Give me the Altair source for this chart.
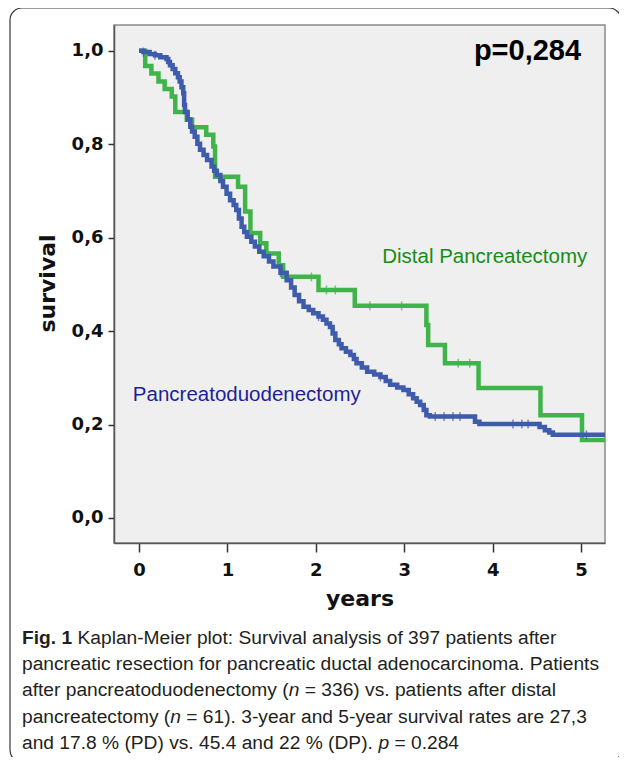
import altair as alt
import pandas as pd

# ---- data ----
dp_time = [0.0, 0.07, 0.14, 0.22, 0.29, 0.37, 0.41, 0.54, 0.60, 0.76, 0.84, 0.86,
           1.12, 1.20, 1.26, 1.37, 1.44, 1.58, 1.63, 2.03, 2.44, 3.25, 3.27, 3.46,
           3.84, 4.54, 5.01, 5.27]
dp_surv = [1.0, 0.967, 0.951, 0.934, 0.918, 0.902, 0.869, 0.852, 0.836, 0.820, 0.795, 0.730,
           0.709, 0.656, 0.610, 0.588, 0.566, 0.541, 0.516, 0.488, 0.454, 0.413, 0.370, 0.331,
           0.278, 0.220, 0.167, 0.167]

pd_time = [0.00, 0.05, 0.12, 0.18, 0.24, 0.31, 0.33, 0.35, 0.38, 0.41, 0.44, 0.46, 0.48,
           0.50, 0.51, 0.52, 0.55, 0.58, 0.60, 0.63, 0.66, 0.69, 0.73, 0.77, 0.82, 0.85,
           0.88, 0.92, 0.95, 0.99, 1.03, 1.07, 1.10, 1.13, 1.16, 1.19, 1.22, 1.27, 1.31,
           1.36, 1.41, 1.47, 1.52, 1.60, 1.67, 1.72, 1.76, 1.81, 1.86, 1.92, 1.97, 2.03,
           2.08, 2.12, 2.16, 2.19, 2.22, 2.26, 2.29, 2.34, 2.39, 2.43, 2.46, 2.52, 2.58,
           2.66, 2.73, 2.79, 2.84, 2.92, 2.99, 3.05, 3.10, 3.14, 3.18, 3.22, 3.25, 3.29,
           3.80, 3.85, 4.53, 4.59, 4.64, 4.68, 5.27]
pd_surv = [1.000, 0.997, 0.993, 0.990, 0.986, 0.982, 0.976, 0.969, 0.961, 0.952, 0.943, 0.934, 0.922,
           0.909, 0.884, 0.869, 0.853, 0.837, 0.827, 0.816, 0.801, 0.788, 0.777, 0.766, 0.752, 0.743,
           0.734, 0.721, 0.709, 0.694, 0.680, 0.670, 0.659, 0.641, 0.623, 0.612, 0.602, 0.591, 0.581,
           0.570, 0.560, 0.549, 0.538, 0.525, 0.509, 0.493, 0.477, 0.464, 0.452, 0.445, 0.438, 0.431,
           0.424, 0.416, 0.409, 0.395, 0.381, 0.372, 0.363, 0.356, 0.349, 0.340, 0.331, 0.322, 0.313,
           0.307, 0.302, 0.293, 0.285, 0.279, 0.274, 0.265, 0.256, 0.249, 0.242, 0.231, 0.220, 0.217,
           0.206, 0.201, 0.195, 0.188, 0.183, 0.178, 0.178]

dp_cens_time = [1.95, 2.12, 2.22, 2.61, 2.97, 3.61, 3.74]
dp_cens_surv = [0.516, 0.488, 0.488, 0.454, 0.454, 0.331, 0.331]
pd_cens_time = [0.05, 0.18, 1.60, 2.03, 2.73, 3.35, 3.45, 3.55, 3.63, 4.23, 4.33, 4.40, 5.06]
pd_cens_surv = [0.997, 0.990, 0.525, 0.431, 0.302, 0.217, 0.217, 0.217, 0.217, 0.201, 0.201, 0.201, 0.178]

x_ticks = [0, 1, 2, 3, 4, 5]
y_ticks = [0.0, 0.2, 0.4, 0.6, 0.8, 1.0]

label_text = ["Distal Pancreatectomy", "Pancreatoduodenectomy", "p=0,284"]
label_time = [2.75, -0.07, 5.0]
label_surv = [0.559, 0.263, 1.0]

# caption: list of lines, each a list of (text, style) segments
caption = [
    [("Fig. 1", "bold"), (" Kaplan-Meier plot: Survival analysis of 397 patients after", "normal")],
    [("pancreatic resection for pancreatic ductal adenocarcinoma. Patients", "normal")],
    [("after pancreatoduodenectomy (", "normal"), ("n", "italic"), (" = 336) vs. patients after distal", "normal")],
    [("pancreatectomy (", "normal"), ("n", "italic"), (" = 61). 3-year and 5-year survival rates are 27,3", "normal")],
    [("and 17.8 % (PD) vs. 45.4 and 22 % (DP). ", "normal"), ("p", "italic"), (" = 0.284", "normal")],
]

# Arial / Liberation Sans advance widths (1/1000 em) used to place caption segments
ARIAL = {" ": 278, "(": 333, ")": 333, ".": 278, ",": 278, ":": 278, "%": 889, "=": 584, "-": 333,
         "a": 556, "b": 556, "c": 500, "d": 556, "e": 556, "f": 278, "g": 556, "h": 556, "i": 222,
         "k": 500, "l": 222, "m": 833, "n": 556, "o": 556, "p": 556, "r": 333, "s": 500, "t": 278,
         "u": 556, "v": 500, "y": 500, "P": 667, "D": 722, "F": 611, "K": 667, "M": 833, "S": 667}
ARIAL_BOLD = {"F": 611, "i": 278, "g": 611, ".": 278, " ": 278}
for d in "0123456789":
    ARIAL[d] = 556
    ARIAL_BOLD[d] = 556


def seg_width(text, style, fs):
    table = ARIAL_BOLD if style == "bold" else ARIAL
    return sum(table.get(ch, 556) for ch in text) / 1000.0 * fs


# ---- styling ----
GREEN = "#40b44a"
BLUE = "#3f5bab"
GREEN_TXT = "#178c17"
BLUE_TXT = "#1d1f98"
W, H = 491, 518
CAP_FS = 19.2

xs = alt.Scale(domain=[-0.283, 5.27], nice=False, zero=False)
ys = alt.Scale(domain=[-0.0535, 1.055], nice=False, zero=False)

df_dp = pd.DataFrame({"t": dp_time, "s": dp_surv})
df_pd = pd.DataFrame({"t": pd_time, "s": pd_surv})
df_dpc = pd.DataFrame({"t": dp_cens_time, "s": dp_cens_surv})
df_pdc = pd.DataFrame({"t": pd_cens_time, "s": pd_cens_surv})

x_enc = alt.X("t:Q", scale=xs, axis=alt.Axis(values=x_ticks, format="d", title="years", tickSize=9,
                                            labelPadding=9, titleY=62, titleBaseline="alphabetic"))
y_enc = alt.Y("s:Q", scale=ys, axis=alt.Axis(values=y_ticks, title="survival", tickSize=6,
                                            labelPadding=5,
                                            labelExpr="replace(format(datum.value, '.1f'), '.', ',')",
                                            titleX=-60, titleY=258, titleAngle=-90,
                                            titleAlign="center", titleBaseline="alphabetic"))

green = alt.Chart(df_dp).mark_line(interpolate="step-after", color=GREEN, strokeWidth=4.5).encode(
    x=x_enc, y=y_enc)
blue = alt.Chart(df_pd).mark_line(interpolate="step-after", color=BLUE, strokeWidth=4.5).encode(
    x="t:Q", y="s:Q")
green_c = alt.Chart(df_dpc).mark_tick(color=GREEN, size=9, thickness=1.5, orient="vertical").encode(
    x="t:Q", y="s:Q")
blue_c = alt.Chart(df_pdc).mark_tick(color=BLUE, size=9, thickness=1.5, orient="vertical").encode(
    x="t:Q", y="s:Q")

lab_dp = alt.Chart(pd.DataFrame({"t": [label_time[0]], "s": [label_surv[0]], "l": [label_text[0]]})).mark_text(
    align="left", baseline="middle", font="Liberation Sans", fontSize=20.5, color=GREEN_TXT).encode(
    x="t:Q", y="s:Q", text="l:N")
lab_pd = alt.Chart(pd.DataFrame({"t": [label_time[1]], "s": [label_surv[1]], "l": [label_text[1]]})).mark_text(
    align="left", baseline="middle", font="Liberation Sans", fontSize=20.5, color=BLUE_TXT).encode(
    x="t:Q", y="s:Q", text="l:N")
lab_p = alt.Chart(pd.DataFrame({"t": [label_time[2]], "s": [label_surv[2]], "l": [label_text[2]]})).mark_text(
    align="right", baseline="middle", font="Liberation Sans", fontWeight="bold", fontSize=29, color="#000").encode(
    x="t:Q", y="s:Q", text="l:N")

# outer rounded frame (pixel coordinates relative to plot origin)
frame = alt.Chart(pd.DataFrame({"a": [0]})).mark_rect(
    fill="white", fillOpacity=0, stroke="#3a3a3a", strokeWidth=1.2, cornerRadius=12).encode(
    x=alt.value(-104), x2=alt.value(507), y=alt.value(-17), y2=alt.value(737))

cap_layers = []
cap_x0 = -92
cap_y0 = 613
cap_dy = 26.2
for i, segs in enumerate(caption):
    xx = cap_x0
    for text, style in segs:
        lead = len(text) - len(text.lstrip(" "))
        xx_draw = xx + seg_width(" " * lead, style, CAP_FS)
        kw = {}
        if style == "bold":
            kw["fontWeight"] = "bold"
        if style == "italic":
            kw["fontStyle"] = "italic"
        cap_layers.append(alt.Chart(pd.DataFrame({"c": [text.strip(" ")]})).mark_text(
            align="left", baseline="middle", font="Liberation Sans", fontSize=CAP_FS,
            color="#231f20", **kw).encode(x=alt.value(xx_draw), y=alt.value(cap_y0 + i * cap_dy), text="c:N"))
        xx += seg_width(text, style, CAP_FS)

chart = alt.layer(green, blue, green_c, blue_c, lab_dp, lab_pd, lab_p, frame, *cap_layers).properties(
    width=W, height=H,
    autosize=alt.AutoSizeParams(type="none"),
    padding={"left": 106, "top": 17, "right": 14, "bottom": 214},
    background="white",
).configure_view(
    fill="#efefef", stroke="#8a8a8a", strokeWidth=1.5
).configure_axis(
    grid=False, domainColor="#555", domainWidth=1.5, tickColor="#333", tickWidth=1.5,
    labelFont="DejaVu Sans", labelFontWeight="bold", labelFontSize=18, labelColor="#111",
    titleFont="DejaVu Sans", titleFontWeight="bold", titleFontSize=22, titleColor="#111"
)

chart.save("out.html", embed_options={"renderer": "svg", "actions": False})
